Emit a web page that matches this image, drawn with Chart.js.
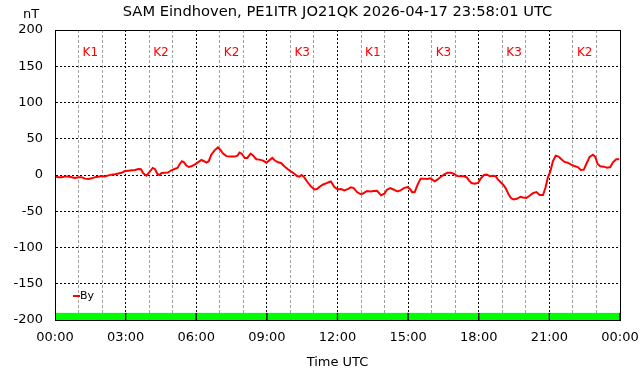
<!DOCTYPE html>
<html><head><meta charset="utf-8">
<script src="https://cdn.jsdelivr.net/npm/chart.js@4.4.1/dist/chart.umd.min.js"></script>
<style>html,body{margin:0;padding:0;background:#fff;}canvas{display:block;}</style>
</head><body>
<canvas id="c" width="642" height="376"></canvas>
<script>
// ---- data ----
const timesH = [
0.00,0.14,0.28,0.42,0.57,0.71,0.85,0.99,1.13,1.27,1.42,1.56,1.70,1.84,1.98,2.12,2.27,2.41,2.55,2.69,2.83,2.97,3.12,3.26,3.40,3.54,3.65,3.75,3.89,4.01,4.15,4.25,4.35,4.43,4.53,4.67,4.80,
4.94,5.08,5.20,5.30,5.39,5.48,5.58,5.68,5.79,5.93,6.07,6.22,6.33,6.43,6.53,6.64,6.78,6.92,7.02,7.14,7.28,7.42,7.63,7.75,7.84,7.94,8.06,8.17,8.31,8.41,8.55,8.69,8.84,8.98,9.09,9.23,9.33,9.47,9.60,
9.74,9.88,10.02,10.17,10.28,10.38,10.48,10.59,10.73,10.87,11.02,11.13,11.23,11.37,11.51,11.65,11.72,11.87,12.01,12.15,12.29,12.43,12.57,12.69,12.83,12.97,13.07,13.25,13.40,13.54,13.68,13.85,13.99,14.10,14.24,14.40,
14.54,14.68,14.82,14.97,15.08,15.18,15.28,15.39,15.53,15.67,15.82,15.93,16.03,16.13,16.24,16.38,16.52,16.67,16.81,16.95,17.09,17.23,17.37,17.49,17.59,17.69,17.83,17.97,18.08,18.22,18.34,18.48,18.62,18.72,18.82,18.93,19.04,19.14,19.20,
19.27,19.37,19.48,19.62,19.77,19.88,20.02,20.16,20.30,20.45,20.59,20.73,20.83,20.93,21.04,21.15,21.27,21.39,21.51,21.64,21.78,21.92,22.06,22.20,22.34,22.46,22.57,22.71,22.85,22.95,23.05,23.16,23.31,23.45,23.59,23.70,23.84,23.97
];
const byValues = [
-2,-3,-3,-2,-2,-3,-4,-3,-3,-5,-5.5,-4.6,-3,-2.3,-1.4,-2,-0.5,0.5,1,2,3,5.5,6,6.5,7,8.3,8,2.3,-1,4,9.7,8,1.4,0,2.8,3.2,3.5,
6.5,8.3,9.7,15.2,19,17.5,13,11,12,14.3,17.5,20.7,19,17,19,28,34,38,35,29.5,26,25.4,25.4,26.7,31,29,23.5,23.5,29.5,27,21.7,21.2,19.8,17,19.8,23.5,20.3,17.5,16.6,
12,8.3,5,1.8,-1.4,-2.3,0,-3.2,-10,-15.7,-20,-19.4,-16.6,-13.4,-11.5,-9.7,-8.8,-16.6,-19.8,-19.4,-21.2,-19.4,-17,-18,-23.5,-26.3,-25.8,-22,-22.6,-22,-21.7,-28,-25.8,-20.3,-18,-20.3,
-22.6,-21.2,-18,-16.6,-19.4,-24,-23.5,-14.3,-5,-5,-5.5,-4.6,-6.5,-8.8,-6.5,-2.8,0.5,3.2,3.2,1.4,-1.4,-1.8,-1.8,-3.2,-7.8,-11,-12,-11,-5,0,0.5,-1.8,-1,-1.8,-6.5,-10,-13.4,-18,-22,
-27,-31.8,-33.7,-32.8,-30,-31,-31.8,-28.6,-25,-23.5,-27.7,-27.7,-18,-4,5,19,26.7,25.4,21.7,18,17,14.3,12.5,11,7,7.4,15.2,25,28,25,15.2,12,11.5,10,11,17.5,21.7,21.7
];
const kLabels = ['K1','K2','K2','K3','K1','K3','K3','K2'];
const kCenters = [1.5,4.5,7.5,10.5,13.5,16.5,19.5,22.5];
const kBandBottom = [-200,-200,-200,-200,-200,-200,-200,-200];
const kBandTop = [-190,-190,-190,-190,-190,-190,-190,-190];
const yTickValues = [-200,-150,-100,-50,0,50,100,150,200];
const xTickLabels = ['00:00','03:00','06:00','09:00','12:00','15:00','18:00','21:00','00:00'];
const titleText = 'SAM Eindhoven, PE1ITR JO21QK 2026-04-17 23:58:01 UTC';
const yUnit = 'nT';
const xTitle = 'Time UTC';
const seriesName = 'By';

// ---- chart ----
const FONT = 'DejaVu Sans';
Chart.defaults.font.family = FONT;
Chart.defaults.color = '#000';

const noPad = s => { s.paddingLeft = 0; s.paddingRight = 0; s.paddingTop = 0; s.paddingBottom = 0; };

const overlay = {
  id: 'overlay',
  afterDraw(chart) {
    const {ctx, chartArea: a, scales: {x, y}} = chart;
    ctx.save();
    // box
    ctx.strokeStyle = '#000'; ctx.lineWidth = 1; ctx.setLineDash([]);
    ctx.strokeRect(Math.round(a.left) + 0.5, Math.round(a.top) + 0.5, Math.round(a.right - a.left), Math.round(a.bottom - a.top));
    // title
    ctx.fillStyle = '#000';
    ctx.textAlign = 'center'; ctx.textBaseline = 'middle';
    ctx.font = '14.7px ' + FONT;
    ctx.fillText(titleText, (a.left + a.right) / 2, 12.5);
    ctx.font = '13px ' + FONT;
    ctx.fillText(yUnit, 31, 15);
    // K labels
    ctx.fillStyle = '#ff0000';
    ctx.font = '12px ' + FONT;
    kLabels.forEach((k, i) => {
      ctx.fillText(k, x.getPixelForValue(kCenters[i]), y.getPixelForValue(169));
    });
    // legend
    ctx.strokeStyle = '#ff0000'; ctx.lineWidth = 2;
    ctx.beginPath(); ctx.moveTo(a.left + 18, 296); ctx.lineTo(a.left + 25, 296); ctx.stroke();
    ctx.fillStyle = '#000'; ctx.textAlign = 'left';
    ctx.font = '11px ' + FONT;
    ctx.fillText(seriesName, a.left + 25, 296);
    ctx.restore();
  }
};

new Chart(document.getElementById('c'), {
  data: {
    datasets: [
      {
        type: 'line', label: seriesName,
        data: timesH.map((t, i) => ({x: t, y: byValues[i]})),
        borderColor: '#ff0000', borderWidth: 2, pointRadius: 0, tension: 0,
        xAxisID: 'x', yAxisID: 'y', order: 1
      },
      {
        type: 'bar', label: 'K',
        data: kCenters.map((c, i) => ({x: c, y: [kBandBottom[i], kBandTop[i]]})),
        backgroundColor: '#00ff00', borderColor: '#000',
        borderWidth: {left: 1, right: 1, top: 0, bottom: 0}, borderSkipped: false,
        barPercentage: 1, categoryPercentage: 1,
        xAxisID: 'x', yAxisID: 'y', order: 2
      }
    ]
  },
  options: {
    responsive: false, animation: false, devicePixelRatio: 1,
    layout: {padding: {top: 30, right: 22, left: 0, bottom: 0}},
    plugins: {legend: {display: false}, title: {display: false}, tooltip: {enabled: false}},
    scales: {
      xm: {
        type: 'linear', position: 'bottom', min: 0, max: 24, offset: false,
        ticks: {display: false, stepSize: 1},
        grid: {offset: false, drawTicks: false, lineWidth: 1,
          color: c => (c.tick && c.tick.value % 3 === 0) ? 'rgba(0,0,0,0)' : '#a0a0a0'},
        border: {display: false, dash: [3, 2]},
        afterFit: s => { s.height = 0; noPad(s); }
      },
      x: {
        type: 'linear', position: 'bottom', min: 0, max: 24, offset: false,
        afterBuildTicks: s => { s.ticks = xTickLabels.map((l, i) => ({value: i * 3})); },
        ticks: {autoSkip: false, maxRotation: 0, padding: 10, font: {size: 13}, color: '#000',
          callback: v => xTickLabels[Math.round(v / 3)]},
        grid: {offset: false, drawTicks: false, color: '#000', lineWidth: 1},
        border: {display: true, color: '#000', width: 1, dash: [2, 2]},
        title: {display: true, text: xTitle, font: {size: 13}, color: '#000', padding: {top: 0, bottom: 6}},
        afterFit: s => { s.height = 56; noPad(s); }
      },
      y: {
        type: 'linear', position: 'left', min: -200, max: 200,
        afterBuildTicks: s => { s.ticks = yTickValues.map(v => ({value: v})); },
        ticks: {padding: 12, font: {size: 13}, color: '#000'},
        grid: {drawTicks: false, color: '#000', lineWidth: 1},
        border: {display: true, color: '#000', width: 1, dash: [2, 2]},
        afterFit: s => { s.width = 55; noPad(s); }
      }
    }
  },
  plugins: [overlay]
});
</script>
</body></html>
